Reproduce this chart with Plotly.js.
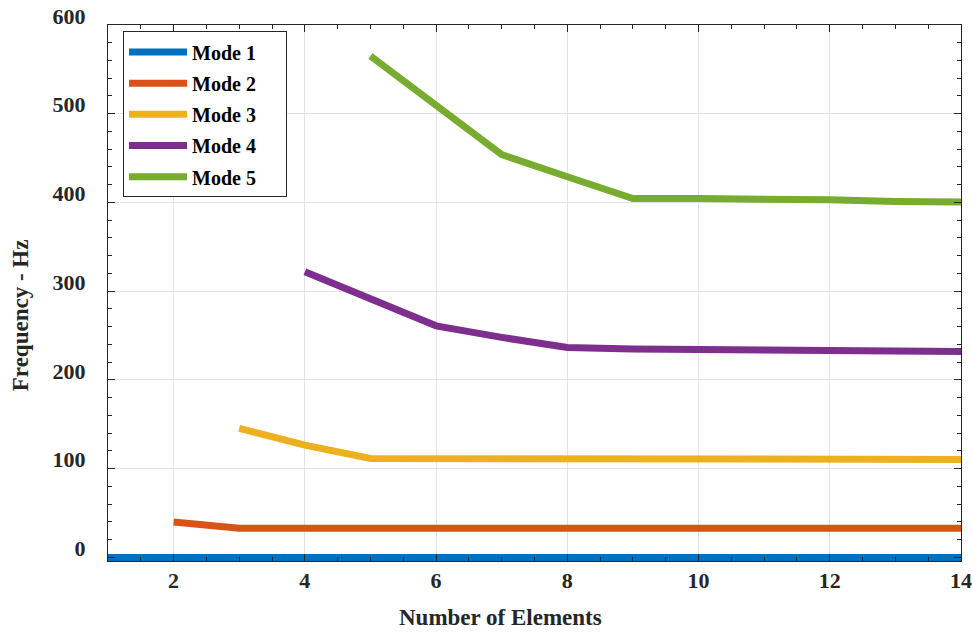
<!DOCTYPE html>
<html>
<head>
<meta charset="utf-8">
<script src="https://cdn.plot.ly/plotly-3.0.1.min.js"></script>
<style>
  html, body { margin: 0; padding: 0; background: #ffffff; }
  #chart { width: 972px; height: 632px; }
</style>
</head>
<body>
<div id="chart"></div>
<script>
// Natural frequencies (Hz) of the first five modes versus mesh size
const elements = [1, 2, 3, 4, 5, 6, 7, 8, 9, 10, 11, 12, 13, 14];

const mode1 = [0, 0, 0, 0, 0, 0, 0, 0, 0, 0, 0, 0, 0, 0];
const mode2 = [null, 40, 33, 33, 33, 33, 33, 33, 33, 33, 33, 33, 33, 33];
const mode3 = [null, null, 145.5, 126.5, 111.5, 111.5, 111, 111, 110.5, 110.5, 110.5, 110.5, 110.5, 110.5];
const mode4 = [null, null, null, 322, 291, 261, 248, 236.5, 235, 234, 233, 232.5, 232, 232];
const mode5 = [null, null, null, null, 565, 510, 454, 429, 404.5, 404.5, 404.5, 403, 401, 400.5];

const modeNames = ['Mode 1', 'Mode 2', 'Mode 3', 'Mode 4', 'Mode 5'];
const modeColors = ['#0072BD', '#D95319', '#EDB120', '#7E2F8E', '#77AC30'];
const modeSeries = [mode1, mode2, mode3, mode4, mode5];

const xTitle = 'Number of Elements';
const yTitle = 'Frequency - Hz';

const serif = 'Liberation Serif, Times New Roman, serif';
const titleFont = { family: serif, size: 23, color: '#262626', weight: 'bold' };

// trailing non-breaking spaces leave some room on the right of the legend box
const legendPad = '\u00a0'.repeat(5);

const traces = modeSeries.map((ys, i) => ({
  x: elements,
  y: ys,
  name: modeNames[i] + legendPad,
  legendgroup: 'g' + i,
  type: 'scatter',
  mode: 'lines',
  connectgaps: false,
  line: { color: modeColors[i], width: 7 },
  cliponaxis: false
}));

const axisCommon = {
  showline: true,
  linecolor: '#262626',
  linewidth: 1,
  mirror: 'allticks',
  ticks: 'inside',
  ticklen: 7,
  tickwidth: 1,
  tickcolor: '#262626',
  showgrid: true,
  gridcolor: '#e3e3e3',
  gridwidth: 1,
  zeroline: false,
  tickfont: { family: serif, size: 22, color: '#262626', weight: 'bold' }
};

const layout = {
  width: 972,
  height: 632,
  margin: { l: 108, r: 11, t: 24.5, b: 71 },
  paper_bgcolor: '#ffffff',
  plot_bgcolor: '#ffffff',
  showlegend: true,
  xaxis: Object.assign({}, axisCommon, {
    range: [1, 14],
    tick0: 0,
    dtick: 2,
    minor: { dtick: 0.5, ticks: 'inside', ticklen: 4, tickcolor: '#262626', showgrid: false }
  }),
  yaxis: Object.assign({}, axisCommon, {
    range: [-4, 600],
    tick0: 0,
    dtick: 100,
    ticklabelshift: -9,
    ticklabelstandoff: 17,
    minor: { dtick: 20, ticks: 'inside', ticklen: 4, tickcolor: '#262626', showgrid: false }
  }),
  annotations: [
    { text: xTitle, xref: 'paper', yref: 'paper', x: 0.4596, y: -0.1062,
      xanchor: 'center', yanchor: 'middle', showarrow: false, font: titleFont },
    { text: yTitle, xref: 'paper', yref: 'paper', x: -0.1032, y: 0.4585,
      xanchor: 'center', yanchor: 'middle', textangle: -90, showarrow: false, font: titleFont }
  ],
  legend: {
    x: 0.0176,
    y: 0.988,
    xanchor: 'left',
    yanchor: 'top',
    bgcolor: '#ffffff',
    bordercolor: '#262626',
    borderwidth: 1,
    itemwidth: 58,
    tracegroupgap: 2.2,
    font: { family: serif, size: 20, color: '#000000', weight: 'bold' }
  }
};

Plotly.newPlot('chart', traces, layout, { displayModeBar: false, staticPlot: true });
</script>
</body>
</html>
